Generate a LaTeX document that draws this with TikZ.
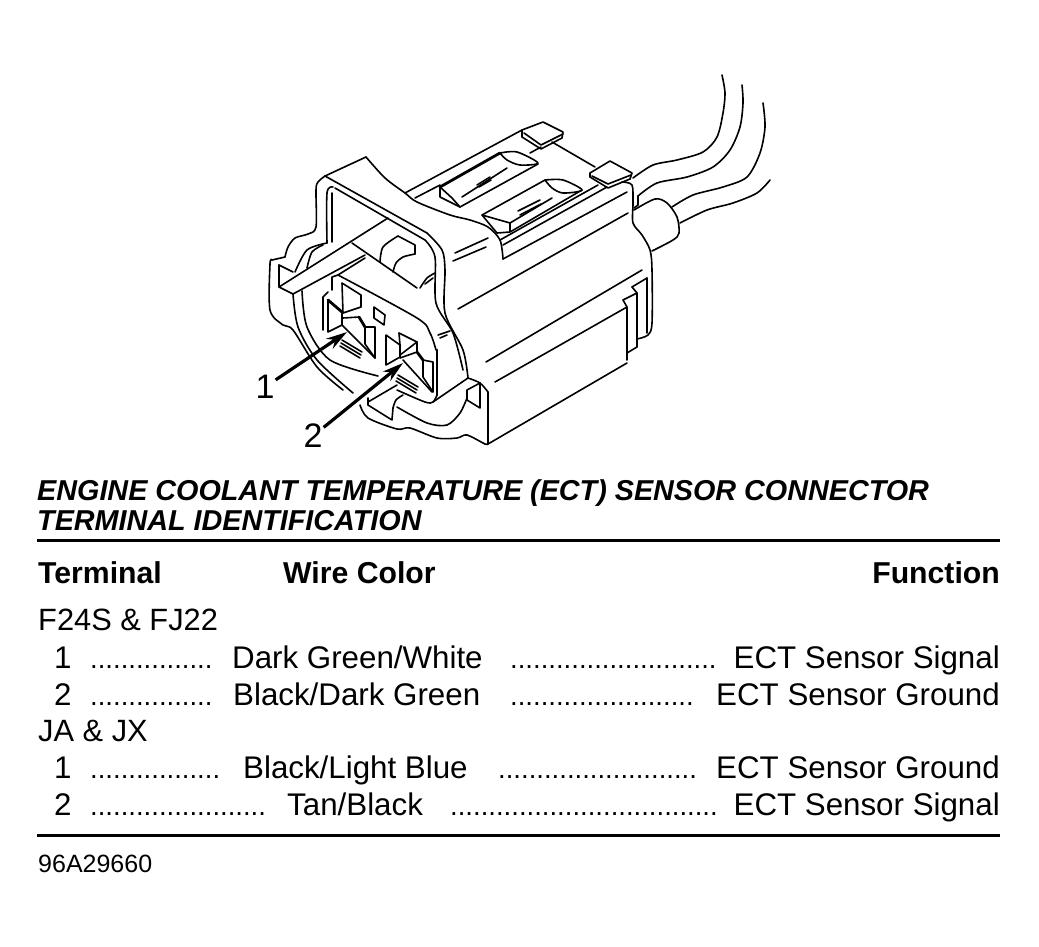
\documentclass[tikz,border=0pt]{standalone}
\usepackage{fontspec}
\setmainfont{Liberation Sans}
\usetikzlibrary{arrows.meta}
\def\softline#1{\draw[ink] plot[smooth,tension=0.5] coordinates {#1};}% Syntax: list of points
\tikzset{
	ink/.style={line width=1.6pt,line join=round,line cap=round},
	heavy/.style={line width=2.8pt,line cap=round},
	callout/.style={line width=3.2pt,-{Stealth[length=21pt,width=12pt]}},
	rule/.style={line width=3pt},
	titletext/.style={anchor=base west,inner sep=0pt,font=\fontsize{28.75}{30}\selectfont\bfseries\itshape},
	headtext/.style={inner sep=0pt,font=\fontsize{30.2}{32}\selectfont\bfseries},
	grouptext/.style={anchor=base west,inner sep=0pt,font=\fontsize{30.8}{32}\selectfont},
	rowtext/.style={inner sep=0pt,font=\fontsize{31.3}{33}\selectfont},
	dottext/.style={anchor=base west,inner sep=0pt,font=\fontsize{27.5}{30}\selectfont},
	calltext/.style={inner sep=1pt,font=\fontsize{34}{36}\selectfont},
}
\begin{document}
\begin{tikzpicture}[x=1pt,y=-1pt]
	\useasboundingbox (0,0) rectangle (1039,946);

	%wires
	\softline{(722,75) (725,93) (723,113) (717,137) (703,152) (677,160) (653,165) (633,178)}
	\softline{(742,85) (743,103) (740,127) (730,150) (713,167) (687,177) (657,183) (638,196)}
	\softline{(763,103) (765,127) (760,153) (747,177) (723,187) (693,195) (672,207)}
	\softline{(770,180) (757,193) (733,203) (707,210) (680,223)}
	\draw[ink] (638,196)--(638,205)--(634,208);
	%boot
	\softline{(634,210) (655,199) (667,203) (677,217) (679,233) (673,240) (652,251)}

	%frame: outer
	\softline{(366,157) (385,178) (405,193) (417,202) (450,215) (470,220) (488,227) (500,240) (503,259)}
	\draw[ink] (366,157)--(325,176);
	\softline{(325,176) (318,182) (316,190) (316,227) (308,234) (295,238) (288,247) (285,257)}
	\draw[ink] (285,257)--(272,260);
	\softline{(272,260) (270,264) (270,310) (283,325) (293,330) (317,367) (343,390)}
	\draw[ink] (325,176)--(427,233);
	\softline{(427,233) (442,250) (445,270) (445,313) (463,350) (468,378)}
	%frame: inner
	\softline{(327,243) (327,193) (333,187)}
	\draw[ink] (332,193)--(332,242);
	\draw[ink] (335,188)--(425,240);
	\softline{(425,240) (435,257) (436,303) (453,333) (463,370)}

	%body corner and long edges
	\softline{(468,378) (480,383) (488,392)}
	\draw[ink] (488,392)--(488,444)--(627,363);
	\draw[ink] (627,307)--(495,382);
	\draw[ink] (642,270)--(486,362);
	\draw[ink] (628,213)--(458,309);
	\draw[ink] (455,253)--(488,238);
	\draw[ink] (453,261)--(486,247);
	\draw[ink] (438,335)--(450,331);
	\draw[ink] (440,338)--(447,335);

	%body right edge
	\softline{(622,182) (632,185) (633,203) (633,223) (642,235) (650,250) (652,270) (652,323) (648,335) (637,339)}
	\draw[ink] (647,278)--(647,333);
	\draw[ink] (632,287)--(647,278);
	\draw[ink] (632,287)--(637,293)--(637,347)--(627,353);
	\draw[ink] (623,300)--(637,293);
	\draw[ink] (623,300)--(627,307)--(627,360);

	%top ridge
	\draw[ink] (503,259)--(627,192);
	\draw[ink] (500,240)--(598,185);
	\draw[ink] (503,245)--(607,187);
	\draw[ink] (405,193)--(522,130);
	\draw[ink] (415,198)--(440,185);

	%top clips
	\draw[ink] (522,130)--(543,122)--(563,132)--(562,138)--(541,149)--(522,137)--cycle;
	\draw[ink] (524,133)--(541,145)--(563,134);
	\draw[ink] (552,142)--(595,167);
	\draw[ink] (590,173)--(610,161)--(632,173)--(630,179)--(608,188)--(590,177)--cycle;
	\draw[ink] (592,176)--(608,184)--(631,175);

	%recess near
	\draw[heavy] (440,187)--(500,153);
	\draw[ink] (440,187)--(440,197)--(460,207)--(538,164);
	\draw[ink] (440,187)--(452,198)--(460,207);
	\softline{(500,153) (517,152) (538,163) (520,165) (507,160) (500,153)}
	\draw[ink] (462,197)--(507,168);
	\draw[ink] (477,185)--(490,177);
	\draw[ink] (479,187)--(491,180);
	\draw[ink] (530,153)--(541,147);
	%recess far
	\draw[ink] (482,215)--(545,180);
	\softline{(545,180) (563,180) (582,190) (563,193) (552,188) (545,180)}
	\draw[ink] (582,190)--(510,232)--(497,233)--(482,215)--(510,223)--(510,232);
	\draw[ink] (510,223)--(552,198);
	\draw[ink] (518,211)--(540,200);
	\draw[ink] (520,215)--(541,204);

	%cross bar
	\draw[ink] (279,265)--(279,287)--(293,294)--(365,255);
	\draw[ink] (279,265)--(293,272);
	\draw[ink] (279,287)--(388,218);
	\draw[ink] (352,243)--(417,288);
	\softline{(420,288) (427,278) (435,273)}
	\draw[ink] (425,284)--(433,278);
	%peg behind bar
	\softline{(380,262) (383,247) (398,236)}
	\draw[ink] (398,236)--(415,245)--(415,254);
	\softline{(415,254) (403,257) (396,263) (393,272)}
	%arcs behind bar
	\softline{(327,243) (307,250) (295,272)}
	\softline{(323,245) (312,252) (307,268)}
	\softline{(293,294) (298,327) (317,360) (353,393)}
	\softline{(302,291) (307,327) (330,360) (378,376)}

	%socket
	\draw[ink] (332,290)--(332,277)--(338,275)--(365,258);
	\softline{(338,275) (417,318) (430,333) (436,350)}
	\draw[heavy] (437,350)--(437,395);
	\softline{(437,395) (433,402) (425,402) (397,390)}

	%terminal 1
	\draw[ink] (342,283)--(361,295)--(361,307)--(343,313)--cycle;
	\draw[ink] (328,300)--(328,332)--(342,325)--(342,312);
	\draw[heavy] (328,300)--(342,312);
	\draw[ink] (323,330)--(323,297)--(328,292);
	\draw[ink] (343,318)--(359,317);
	\draw[heavy] (359,317)--(365,327);
	\draw[ink] (365,327)--(375,327)--(375,358)--(365,344)--(365,327);
	\draw[ink] (342,325)--(375,358);
	\draw[ink] (374,307)--(385,315)--(384,325)--(374,318)--cycle;
	\draw[ink] (342,340)--(362,352);
	\draw[ink] (341,343)--(361,355);
	\draw[ink] (340,346)--(360,358);

	%terminal 2
	\draw[ink] (386,335)--(386,365)--(400,357)--(400,345)--cycle;
	\draw[ink] (399,333)--(417,342)--(400,355);
	\draw[ink] (399,333)--(400,345);
	\draw[ink] (417,342)--(417,352)--(400,358);
	\draw[ink] (403,360)--(432,392);
	\draw[heavy] (417,352)--(423,360);
	\draw[ink] (423,360)--(433,362)--(433,392)--(423,377)--(423,360);
	\draw[ink] (398,375)--(418,387);
	\draw[ink] (397,378)--(417,390);
	\draw[ink] (396,381)--(416,393);

	%lower clip
	\draw[ink] (433,402)--(468,378);
	\draw[ink] (467,390)--(480,383)--(480,408)--(467,400)--cycle;
	\draw[ink] (368,398)--(368,405)--(392,420)--(393,408);
	\draw[ink] (368,402)--(397,385);
	\softline{(393,408) (396,400) (403,395)}
	\softline{(397,407) (427,423) (447,425) (460,413) (467,398)}
	\softline{(360,405) (368,418) (397,429) (410,428) (437,438) (457,438) (467,435) (485,444) (488,444)}

	%callouts
	\node[calltext] (lab1) at (265,387) {1};
	\node[calltext] (lab2) at (313,436) {2};
	\coordinate (term1) at (347,332);
	\coordinate (term2) at (403,363);
	\draw[callout] (lab1)--(term1);
	\draw[callout] (lab2)--(term2);

	%title
	\node[titletext] (title1) at (37,500) {ENGINE COOLANT TEMPERATURE (ECT) SENSOR CONNECTOR};
	\node[titletext] (title2) at (37,530) {TERMINAL IDENTIFICATION};
	\draw[rule] (37,540)--(1000,540);

	%table head
	\node[headtext,anchor=base west] (headterm) at (38,583) {Terminal};
	\node[headtext,anchor=base west] (headwire) at (283,583) {Wire Color};
	\node[headtext,anchor=base east] (headfunc) at (1000,583) {Function};

	%first group
	\node[grouptext] (groupa) at (38,630) {F24S \& FJ22};
	\node[rowtext,anchor=base west] (ano1) at (54,668) {1};
	\node[dottext] (adots1) at (90,668) {................};
	\node[rowtext,anchor=base west] (awire1) at (232,668) {Dark Green/White};
	\node[dottext] (bdots1) at (510,668) {...........................};
	\node[rowtext,anchor=base east] (afunc1) at (1000,668) {ECT Sensor Signal};
	\node[rowtext,anchor=base west] (ano2) at (54,705) {2};
	\node[dottext] (adots2) at (90,705) {................};
	\node[rowtext,anchor=base west] (awire2) at (233,705) {Black/Dark Green};
	\node[dottext] (bdots2) at (510,705) {........................};
	\node[rowtext,anchor=base east] (afunc2) at (1000,705) {ECT Sensor Ground};

	%second group
	\node[grouptext] (groupb) at (38,741) {JA \& JX};
	\node[rowtext,anchor=base west] (bno1) at (54,778) {1};
	\node[dottext] (cdots1) at (90,778) {.................};
	\node[rowtext,anchor=base west] (bwire1) at (243,778) {Black/Light Blue};
	\node[dottext] (ddots1) at (498,778) {..........................};
	\node[rowtext,anchor=base east] (bfunc1) at (1000,778) {ECT Sensor Ground};
	\node[rowtext,anchor=base west] (bno2) at (54,815) {2};
	\node[dottext] (cdots2) at (90,815) {.......................};
	\node[rowtext,anchor=base west] (bwire2) at (287,815) {Tan/Black};
	\node[dottext] (ddots2) at (450,815) {...................................};
	\node[rowtext,anchor=base east] (bfunc2) at (1000,815) {ECT Sensor Signal};
	\draw[rule] (37,835)--(1000,835);

	%drawing number
	\node[anchor=base west,inner sep=0pt,font=\fontsize{25}{27}\selectfont] (drawno) at (38,872) {96A29660};
\end{tikzpicture}
\end{document}
